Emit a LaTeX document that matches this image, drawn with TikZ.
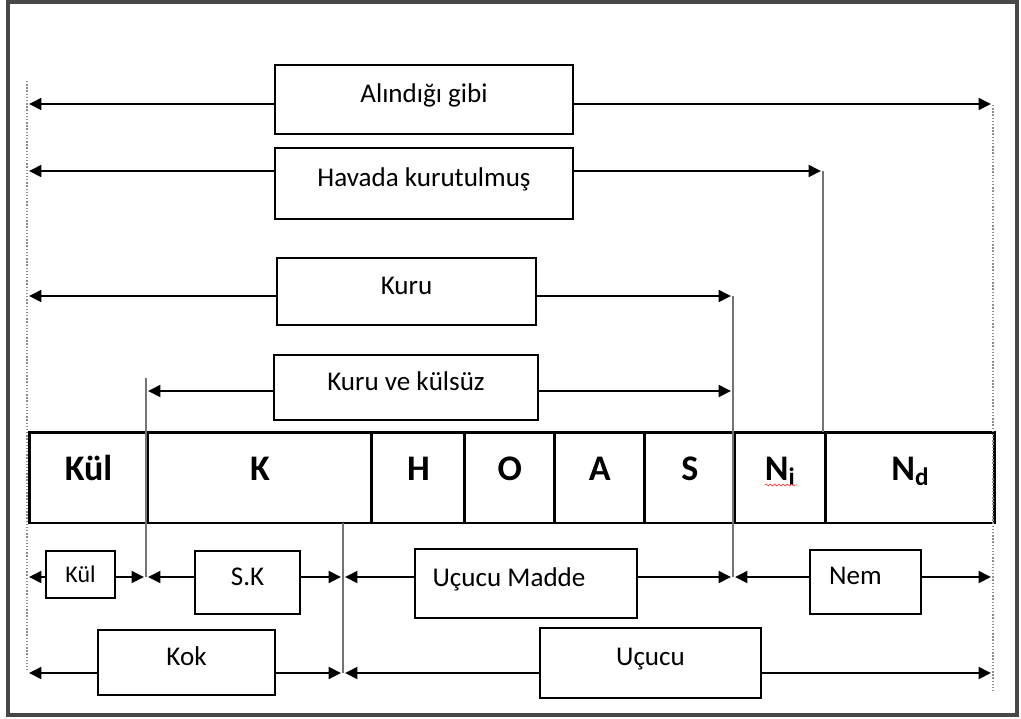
\documentclass[tikz,border=0pt]{standalone}
\usepackage{fontspec}
\setmainfont{Carlito}
\usetikzlibrary{arrows.meta,positioning,decorations.pathmorphing}

\begin{document}
\begin{tikzpicture}[x=0.02cm, y=0.02cm,
    kutu/.style={draw, line width=0.85pt, inner sep=2pt, text height=0.35cm, text depth=0.25cm,
      font=\fontsize{15.4}{18}\selectfont},
    hucre/.style={draw, line width=1.7pt, outer sep=0pt, inner sep=2pt, minimum height=1.82cm,
      text height=0.35cm, text depth=0.25cm, font=\fontsize{20.5}{24}\selectfont\bfseries},
    ok/.style={line width=1.2pt, -{Triangle[length=7pt,width=6.8pt]}, shorten >=1.2pt},
    dikey/.style={black!55, line width=0.8pt},
    kilavuz/.style={black!45, line width=0.8pt, densely dotted}]
    \useasboundingbox (0,0) rectangle (1021,-718);
    \draw [black!72, line width=1.8pt] (8,-2) rectangle (1017,-715);
    % ends of the connectors
    \coordinate (kil1) at (27,-81);
    \coordinate (kil2) at (27,-670);
    \coordinate (kil3) at (993,-105);
    \coordinate (kil4) at (993,-692);
    \coordinate (solA) at (27,-104);
    \coordinate (sagA) at (993,-104);
    \coordinate (solH) at (27,-171);
    \coordinate (sagH) at (823,-171);
    \coordinate (solK) at (27,-296);
    \coordinate (sagK) at (733,-296);
    \coordinate (kvkUst) at (146,-378);
    \coordinate (solKK) at (146,-391);
    \coordinate (sagKK) at (733,-391);
    \coordinate (a1) at (27,-577);
    \coordinate (a2) at (146,-577);
    \coordinate (a3) at (343,-577);
    \coordinate (a4) at (733,-577);
    \coordinate (a5) at (993,-577);
    \coordinate (b1) at (27,-673);
    \coordinate (b2) at (343,-673);
    \coordinate (b3) at (993,-673);
    % upper boxes
    \node [kutu, minimum width=5.96cm, minimum height=1.38cm] (alinan) at (424,-99.5) {Alındığı gibi};
    \node [kutu, minimum width=5.96cm, minimum height=1.42cm] (havada) at (424,-183.5) {Havada kurutulmuş};
    \node [kutu, minimum width=5.18cm, minimum height=1.34cm] (kuru) at (406.5,-291.5) {Kuru};
    \node [kutu, minimum width=5.28cm, minimum height=1.30cm] (kvk) at (406,-387.5) {Kuru ve külsüz};
    % the bar
    \node [hucre, minimum width=2.38cm] (kul) at (88.5,-477.5) {Kül};
    \node [hucre, minimum width=4.48cm, right=0pt of kul] (k) {K};
    \node [hucre, minimum width=1.86cm, right=0pt of k] (h) {H};
    \node [hucre, minimum width=1.80cm, right=0pt of h] (o) {O};
    \node [hucre, minimum width=1.80cm, right=0pt of o] (a) {A};
    \node [hucre, minimum width=1.80cm, right=0pt of a] (s) {S};
    \node [hucre, minimum width=1.82cm, right=0pt of s] (ni) {N\textsubscript{i}};
    \node [hucre, minimum width=3.38cm, right=0pt of ni] (nd) {N\textsubscript{d}};
    \draw [red!80, line width=0.4pt, decorate, decoration={snake, amplitude=0.5pt, segment length=2.4pt}]
      ([shift={(-0.31cm,-0.15cm)}]ni.center) -- ([shift={(0.33cm,-0.15cm)}]ni.center);
    % lower boxes
    \node [kutu, minimum width=1.38cm, minimum height=0.94cm, text height=0.45cm, text depth=0.13cm,
      font=\fontsize{13.6}{16}\selectfont] (kulk) at (80.5,-574.5) {Kül};
    \node [kutu, minimum width=2.10cm, minimum height=1.26cm] (sk) at (247.5,-582.5) {S.K};
    \node [kutu, minimum width=4.44cm, minimum height=1.38cm] (um) at (526,-583.5) {Uçucu Madde\hspace*{0.68cm}};
    \node [kutu, minimum width=2.22cm, minimum height=1.28cm] (nem) at (865.5,-582) {Nem\hspace*{0.4cm}};
    \node [kutu, minimum width=3.54cm, minimum height=1.30cm] (kok) at (186.5,-662.5) {Kok};
    \node [kutu, minimum width=4.42cm, minimum height=1.40cm] (ucucu) at (650.5,-663) {Uçucu};
    % guides and drops
    \draw [kilavuz] (kil1) -- (kil2);
    \draw [kilavuz] (kil3) -- (kil4);
    \draw [dikey] (sagH) -- (sagH |- nd.north);
    \draw [dikey] (sagK) -- (a4);
    \draw [dikey] (kvkUst) -- (a2);
    \draw [dikey] (b2 |- k.south) -- (b2);
    % arrows
    \draw [ok] (alinan.west |- solA) -- (solA);
    \draw [ok] (alinan.east |- sagA) -- (sagA);
    \draw [ok] (havada.west |- solH) -- (solH);
    \draw [ok] (havada.east |- sagH) -- (sagH);
    \draw [ok] (kuru.west |- solK) -- (solK);
    \draw [ok] (kuru.east |- sagK) -- (sagK);
    \draw [ok] (kvk.west |- solKK) -- (solKK);
    \draw [ok] (kvk.east |- sagKK) -- (sagKK);
    \draw [ok] (kulk.west |- a1) -- (a1);
    \draw [ok] (kulk.east |- a1) -- (a2);
    \draw [ok] (sk.west |- a1) -- (a2);
    \draw [ok] (sk.east |- a1) -- (a3);
    \draw [ok] (um.west |- a1) -- (a3);
    \draw [ok] (um.east |- a1) -- (a4);
    \draw [ok] (nem.west |- a1) -- (a4);
    \draw [ok] (nem.east |- a1) -- (a5);
    \draw [ok] (kok.west |- b1) -- (b1);
    \draw [ok] (kok.east |- b1) -- (b2);
    \draw [ok] (ucucu.west |- b1) -- (b2);
    \draw [ok] (ucucu.east |- b1) -- (b3);
\end{tikzpicture}
\end{document}
